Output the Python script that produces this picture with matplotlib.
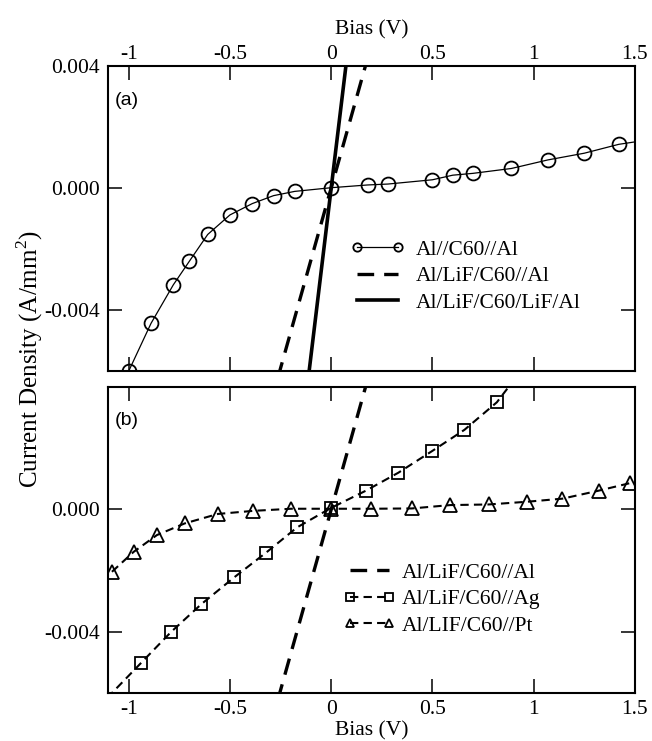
import numpy as np
import matplotlib.pyplot as plt

plt.rcParams['font.family'] = ['Liberation Serif', 'DejaVu Serif']
plt.rcParams['mathtext.fontset'] = 'custom'
plt.rcParams['mathtext.rm'] = 'Liberation Serif'

# bias axis ticks
bias_ticks = [-1, -0.5, 0, 0.5, 1, 1.5]
bias_tick_labels = ['-1', '-0.5', '0', '0.5', '1', '1.5']
top_yticks = [-0.004, 0.0, 0.004]
top_ytick_labels = ['-0.004', '0.000', '0.004']
bot_yticks = [-0.004, 0.0]
bot_ytick_labels = ['-0.004', '0.000']

# (a) Al//C60//Al
al_c60_x = [-1.0, -0.89, -0.78, -0.70, -0.61, -0.50, -0.39, -0.285, -0.18,
            0.0, 0.18, 0.28, 0.50, 0.60, 0.70, 0.89, 1.07, 1.25, 1.42, 1.6]
al_c60_y = [-0.0060, -0.00444, -0.00318, -0.00240, -0.00153, -0.00089,
            -0.00052, -0.00026, -0.00012, 0.0, 0.00009, 0.00012, 0.00026,
            0.00041, 0.00047, 0.00063, 0.00091, 0.00113, 0.00142, 0.00160]

# Al/LiF/C60//Al (same in both panels)
lif_x = [-0.30, 0.20]
lif_y = [-0.00708, 0.00472]

# Al/LiF/C60/LiF/Al
lif2_x = [-0.12, 0.08]
lif2_y = [-0.0066, 0.0044]

# (b) Al/LiF/C60//Ag
ag_x = [-1.2, -0.938, -0.79, -0.642, -0.479, -0.321, -0.169, 0.0, 0.171,
        0.332, 0.497, 0.658, 0.818, 0.98]
ag_y = [-0.0068, -0.00501, -0.0040, -0.0031, -0.00222, -0.00141, -0.00059,
        0.00005, 0.00061, 0.0012, 0.0019, 0.0026, 0.0035, 0.0049]

# (b) Al/LIF/C60//Pt
pt_x = [-1.083, -0.976, -0.861, -0.724, -0.560, -0.387, -0.199, 0.0, 0.198,
        0.398, 0.588, 0.777, 0.969, 1.142, 1.320, 1.477]
pt_y = [-0.00204, -0.00139, -0.00084, -0.00046, -0.00015, -0.00005, 0.00002,
        0.00002, 0.00002, 0.00003, 0.00014, 0.00016, 0.00025, 0.00035,
        0.00061, 0.00086]


def style_axes(ax, labels_on_top, yticks, ytick_labels, xpad):
    ax.set_xlim(-1.1, 1.5)
    ax.set_ylim(-0.006, 0.004)
    ax.set_xticks(bias_ticks)
    ax.set_xticklabels(bias_tick_labels)
    ax.set_yticks(yticks)
    ax.set_yticklabels(ytick_labels)
    ax.tick_params(direction='in', length=10, width=1.1, top=True,
                   right=True, labelsize=15.5,
                   labeltop=labels_on_top, labelbottom=not labels_on_top)
    ax.tick_params(axis='y', pad=6)
    ax.tick_params(axis='x', pad=xpad)
    for s in ax.spines.values():
        s.set_linewidth(1.5)


fig = plt.figure(figsize=(6.52, 7.41), dpi=100)
ax1 = fig.add_axes([0.1664, 0.4993, 0.8075, 0.4123])
ax2 = fig.add_axes([0.1664, 0.0648, 0.8075, 0.413])

leg_kw = dict(loc='center left', frameon=False, fontsize=15.5,
              markerscale=0.6, numpoints=2, labelspacing=0.3,
              borderpad=0, borderaxespad=0)

# panel (a)
ax1.plot(al_c60_x, al_c60_y, color='black', lw=0.9, marker='o', ms=10,
         mfc='none', mec='black', mew=1.3, label='Al//C60//Al')
ax1.plot(lif_x, lif_y, color='black', lw=2.4, dashes=(5, 3),
         label='Al/LiF/C60//Al')
ax1.plot(lif2_x, lif2_y, color='black', lw=2.6, label='Al/LiF/C60/LiF/Al')
style_axes(ax1, True, top_yticks, top_ytick_labels, 1)
ax1.set_xlabel('Bias (V)', fontsize=15.5, labelpad=8)
ax1.xaxis.set_label_position('top')
ax1.text(0.012, 0.887, '(a)', transform=ax1.transAxes, fontsize=14,
         family='Liberation Sans', va='center', ha='left')
ax1.legend(bbox_to_anchor=(0.459, 0.31), handlelength=2.5,
           handletextpad=0.55, **leg_kw)

# panel (b)
ax2.plot(lif_x, lif_y, color='black', lw=2.4, dashes=(5, 3),
         label='Al/LiF/C60//Al')
ax2.plot(ag_x, ag_y, color='black', lw=1.5, dashes=(4, 2.5), marker='s',
         ms=9, mfc='none', mec='black', mew=1.3, label='Al/LiF/C60//Ag')
ax2.plot(pt_x, pt_y, color='black', lw=1.5, dashes=(4, 2.5), marker='^',
         ms=10, mfc='none', mec='black', mew=1.3, label='Al/LIF/C60//Pt')
style_axes(ax2, False, bot_yticks, bot_ytick_labels, 5)
ax2.set_xlabel('Bias (V)', fontsize=15.5, labelpad=2)
ax2.text(0.012, 0.892, '(b)', transform=ax2.transAxes, fontsize=14,
         family='Liberation Sans', va='center', ha='left')
ax2.legend(bbox_to_anchor=(0.447, 0.307), handlelength=2.4,
           handletextpad=0.3, **leg_kw)

fig.text(0.046, 0.515, 'Current Density (A/mm$^2$)', rotation=90,
         fontsize=18, ha='center', va='center')

fig.savefig('out.png', dpi=100)
